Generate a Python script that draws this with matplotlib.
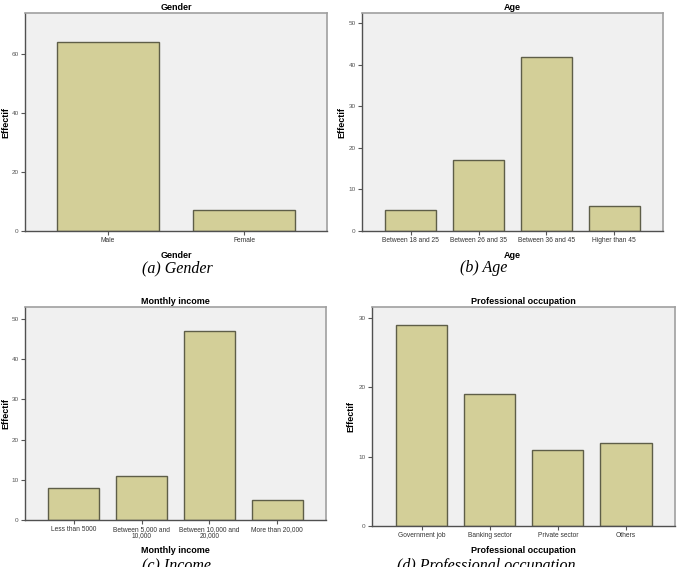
import matplotlib.pyplot as plt
import numpy as np

# data
gender_labels = ['Male', 'Female']
gender_counts = [64, 7]

age_labels = ['Between 18 and 25', 'Between 26 and 35', 'Between 36 and 45', 'Higher than 45']
age_counts = [5, 17, 42, 6]

income_labels = ['Less than 5000', 'Between 5,000 and\n10,000', 'Between 10,000 and\n20,000', 'More than 20,000']
income_counts = [8, 11, 47, 5]

job_labels = ['Government job', 'Banking sector', 'Private sector', 'Others']
job_counts = [29, 19, 11, 12]

W, H = 678, 567
plt.rcParams['font.family'] = ['Liberation Sans', 'DejaVu Sans']

fig = plt.figure(figsize=(W / 100, H / 100), dpi=100)
fig.patch.set_facecolor('white')


def box(left, top, right, bottom):
    # pixel box -> figure fraction
    return [left / W, (H - bottom) / H, (right - left) / W, (bottom - top) / H]


def spss_bar(px, labels, counts, title, xlabel, ymax, yticks, xlim, ylab_x):
    left, top, right, bottom = px
    ax = fig.add_axes(box(left, top, right, bottom))
    ax.set_facecolor('#f0f0f0')
    x = np.arange(len(labels))
    ax.bar(x, counts, width=0.75, color='#d3cf98', edgecolor='#5e5e48', linewidth=1.0, zorder=2)
    ax.set_xlim(*xlim)
    ax.set_ylim(0, ymax)
    ax.set_xticks(x)
    ax.set_xticklabels(labels, fontsize=4.8, color='#333333', linespacing=0.8)
    ax.set_yticks(yticks)
    ax.set_yticklabels([str(t) for t in yticks], fontsize=4.6, color='#555555')
    ax.tick_params(axis='both', length=3, width=0.8, color='#555555', pad=1.5)
    for s in ['top', 'right']:
        ax.spines[s].set_color('#a0a0a0')
        ax.spines[s].set_linewidth(1.2)
    for s in ['left', 'bottom']:
        ax.spines[s].set_color('#505050')
        ax.spines[s].set_linewidth(1.0)
    ax.set_title(title, fontsize=6.5, fontweight='bold', pad=2.5)
    ax.set_xlabel(xlabel, fontsize=6.5, fontweight='bold', labelpad=5)
    ax.set_ylabel('Effectif', fontsize=6.5, fontweight='bold')
    # right edge of the rotated y label, in pixels, like the reference
    ax.yaxis.set_label_coords((ylab_x - left) / (right - left), 0.5)
    return ax


spss_bar((25, 13, 327, 231), gender_labels, gender_counts, 'Gender', 'Gender',
         74, [0, 20, 40, 60], (-0.61, 1.61), 10)
spss_bar((362, 13, 663, 231), age_labels, age_counts, 'Age', 'Age',
         52.5, [0, 10, 20, 30, 40, 50], (-0.72, 3.72), 346)
spss_bar((25, 307, 326, 520), income_labels, income_counts, 'Monthly income', 'Monthly income',
         53, [0, 10, 20, 30, 40, 50], (-0.72, 3.72), 10)
spss_bar((372, 307, 675, 526), job_labels, job_counts, 'Professional occupation', 'Professional occupation',
         31.6, [0, 10, 20, 30], (-0.73, 3.72), 355)

cap = dict(fontsize=11.5, family=['Liberation Serif', 'DejaVu Serif'], style='italic',
           ha='center', va='center')
fig.text(177 / W, 1 - 268 / H, '(a) Gender', **cap)
fig.text(484 / W, 1 - 268 / H, '(b) Age', **cap)
fig.text(177 / W, 1 - 566 / H, '(c) Income', **cap)
fig.text(486 / W, 1 - 566 / H, '(d) Professional occupation', **cap)

plt.savefig('out.png', dpi=100)
